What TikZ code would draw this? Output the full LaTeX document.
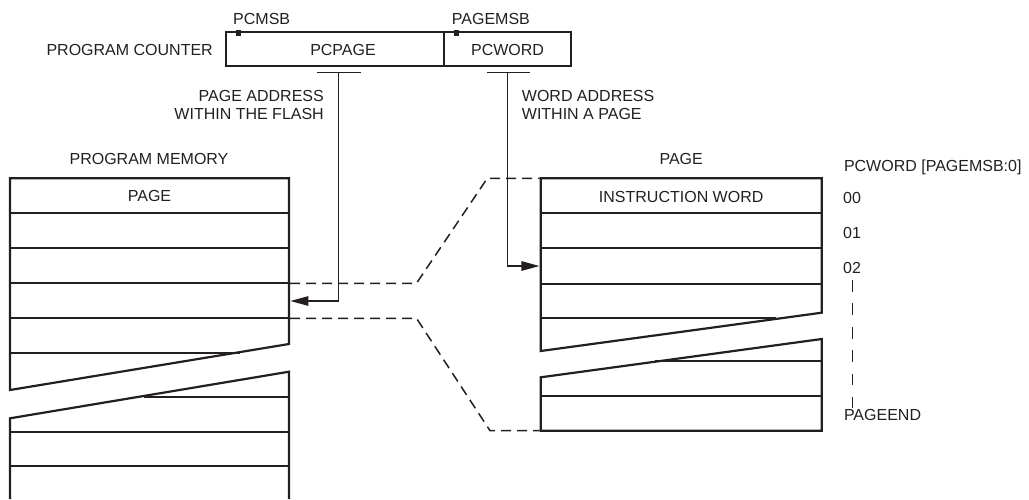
\documentclass[tikz,border=0pt]{standalone}
\usepackage{fontspec}
\setmainfont{Liberation Sans}
\usetikzlibrary{arrows.meta}
\definecolor{ink}{RGB}{35,31,32}
\begin{document}
\begin{tikzpicture}[x=1pt,y=-1pt,
  every node/.style={font=\fontsize{16}{18.3}\selectfont, text=ink, inner sep=0pt},
  blk/.style={draw=ink, line width=2.2pt, line join=miter},
  conn/.style={draw=ink, line width=1.3pt},
  dsh/.style={draw=ink, line width=1.5pt, dash pattern=on 10pt off 6pt},
  arr/.style={conn, -{Triangle[length=18pt,width=9.5pt]}},
  field/.style={draw=ink, line width=2pt, minimum height=33.4pt, inner sep=0pt},
  msb/.style={fill=ink, minimum width=5pt, minimum height=6pt, inner sep=0pt}
]
\useasboundingbox (0,0) rectangle (1029,499);

% ---------- program counter ----------
\node[field, minimum width=218.3pt] (pcpage) at (335.15,49) {};
\node[field, minimum width=126.7pt] (pcword) at (507.65,49) {};
\node[anchor=base] (pcpagetxt) at (343,55) {PCPAGE};
\node[anchor=base] (pcwordtxt) at (507.6,55) {PCWORD};
\node[msb] (msbA) at (238.3,32.8) {};
\node[msb] (msbB) at (456,32.8) {};
\node[anchor=base west] (pcmsb) at (233,24.5) {PCMSB};
\node[anchor=base west] (pagemsb) at (451.7,24.5) {PAGEMSB};
\node[anchor=base east] (pclbl) at (213,55) {PROGRAM COUNTER};

% address labels
\node[anchor=base east] (pa1) at (324,101.5) {PAGE ADDRESS};
\node[anchor=base east] (pa2) at (324,119.8) {WITHIN THE FLASH};
\node[anchor=base west] (wa1) at (521.7,101.5) {WORD ADDRESS};
\node[anchor=base west] (wa2) at (521.7,119.8) {WITHIN A PAGE};

% ---------- program memory (left block) ----------
\node[anchor=base] (pmlbl) at (149,164) {PROGRAM MEMORY};
\draw[blk] (289,344) -- (289,178.3) -- (10,178.3) -- (10,390) -- cycle;
\foreach \yy in {212.7,248.3,283.3,318.3} \draw[blk] (10,\yy) -- (289,\yy);
\draw[blk] (10,352.8) -- (240,352.8);
\draw[blk] (10,499) -- (10,418.3) -- (289,371.7) -- (289,499);
\draw[blk] (144,396.7) -- (289,396.7);
\foreach \yy in {431.7,466} \draw[blk] (10,\yy) -- (289,\yy);
\node[anchor=base] (pmpage) at (149.5,201.7) {PAGE};

% ---------- page (right block) ----------
\node[anchor=base] (pglbl) at (681.2,164.7) {PAGE};
\draw[blk] (540.7,351) -- (540.7,178.3) -- (821.7,178.3) -- (821.7,312.7) -- cycle;
\foreach \yy in {212.7,248.3,284} \draw[blk] (540.7,\yy) -- (821.7,\yy);
\draw[blk] (540.7,318.3) -- (776,318.3);
\draw[blk] (540.7,377.3) -- (821.7,339) -- (821.7,430.7) -- (540.7,430.7) -- cycle;
\draw[blk] (655,360.7) -- (821.7,360.7);
\draw[blk] (540.7,396) -- (821.7,396);
\node[anchor=base] (iw) at (681.2,202.4) {INSTRUCTION WORD};

% word index labels
\node[anchor=base west] (pcwl) at (843.8,171.5) {PCWORD [PAGEMSB:0]};
\node[anchor=base west] (w00) at (843,203.4) {00};
\node[anchor=base west] (w01) at (843,238.4) {01};
\node[anchor=base west] (w02) at (843,273) {02};
\node[anchor=base west] (wend) at (843.8,420.7) {PAGEEND};
\coordinate (vtop) at (852.6,280);
\coordinate (vbot) at (852.6,408);
\draw[conn, dash pattern=on 11.7pt off 11.7pt] (vtop) -- (vbot);

% ---------- dashed zoom lines ----------
\coordinate (pmA) at (290,283.3);
\coordinate (pmB) at (290,318.3);
\coordinate (kA) at (416.5,283.3);
\coordinate (kB) at (416.5,318.3);
\coordinate (pgA) at (487.3,178.3);
\coordinate (pgB) at (490,430.7);
\coordinate (pgAr) at (539.7,178.3);
\coordinate (pgBr) at (539.7,430.7);
\draw[dsh] (pmA) -- (kA) -- (pgA) -- (pgAr);
\draw[dsh] (pmB) -- (kB) -- (pgB) -- (pgBr);

% ---------- address connectors ----------
\coordinate (teeA) at (338.7,72.3);
\coordinate (teeB) at (507.3,72.3);
\draw[conn] (317.3,72.3) -- (360.7,72.3);
\draw[conn] (486.7,72.3) -- (530,72.3);
\coordinate (pmtarget) at (290.4,301);
\coordinate (pgtarget) at (539.4,266);
\draw[arr] (teeA) |- (pmtarget);
\draw[arr] (teeB) |- (pgtarget);
\end{tikzpicture}
\end{document}
